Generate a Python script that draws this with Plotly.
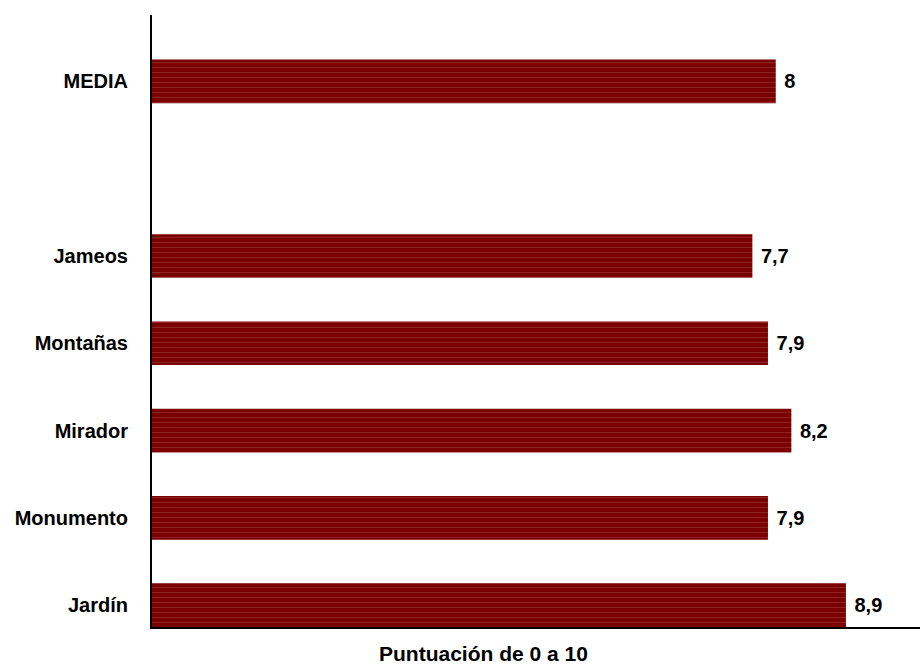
import plotly.graph_objects as go

# Scores (0-10) per site, listed bottom to top; the blank slot separates the mean
categories = ["Jardín", "Monumento", "Mirador", "Montañas", "Jameos", " ", "MEDIA"]
scores = [8.9, 7.9, 8.2, 7.9, 7.7, None, 8.0]
score_labels = ["8,9", "7,9", "8,2", "7,9", "7,7", "", "8"]

FONT = "Liberation Sans, Arial, sans-serif"
SIZE = 20

fig = go.Figure(
    go.Bar(
        x=scores,
        y=categories,
        orientation="h",
        width=0.5,
        text=[" " + t if t else "" for t in score_labels],
        texttemplate="<b>%{text}</b>",
        textposition="outside",
        textfont=dict(family=FONT, size=SIZE, color="#000000"),
        cliponaxis=False,
        marker=dict(
            color="#7A0000",
            line=dict(width=0),
            pattern=dict(
                shape="-",
                bgcolor="#7A0000",
                fgcolor="#B06060",
                size=5,
                solidity=0.15,
                fillmode="overlay",
            ),
        ),
        hoverinfo="skip",
    )
)

fig.update_layout(
    width=920,
    height=667,
    margin=dict(l=152, r=0, t=15, b=40),
    paper_bgcolor="white",
    plot_bgcolor="white",
    showlegend=False,
    font=dict(family=FONT, size=SIZE, color="#000000"),
    annotations=[
        dict(
            text="<b>Puntuación de 0 a 10</b>",
            xref="paper",
            yref="paper",
            x=(483 - 152) / 768,
            y=(627 - 653) / 612,
            xanchor="center",
            yanchor="middle",
            showarrow=False,
            font=dict(family=FONT, size=21),
        )
    ],
)

fig.update_xaxes(
    range=[0, 9.85],
    showticklabels=False,
    showgrid=False,
    zeroline=False,
    showline=True,
    linecolor="#000000",
    linewidth=2,
    ticks="",
)

fig.update_yaxes(
    categoryorder="array",
    categoryarray=categories,
    range=[-0.25, 6.76],
    tickvals=categories,
    ticktext=["<b>%s</b>" % c if c.strip() else "" for c in categories],
    showgrid=False,
    zeroline=False,
    showline=True,
    linecolor="#000000",
    linewidth=2,
    ticks="",
    ticklabelstandoff=18,
    tickfont=dict(family=FONT, size=SIZE),
)

fig.write_html("out.html")
